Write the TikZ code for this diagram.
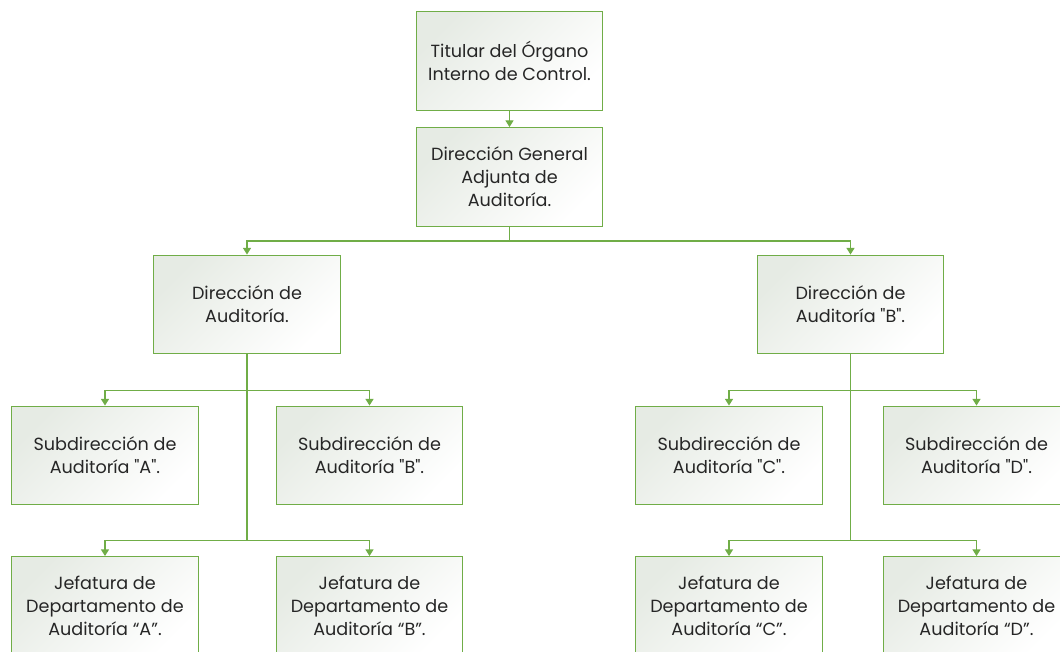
\documentclass[tikz,border=0pt]{standalone}
\usepackage{fontspec}
\setmainfont{Poppins}
\usetikzlibrary{arrows.meta}
\definecolor{verde}{RGB}{112,173,71}
\definecolor{sombra}{RGB}{230,235,228}
\begin{document}
\begin{tikzpicture}[x=0.75pt,y=-0.75pt]
	\tikzset{caja/.style={draw=verde,line width=0.9pt,rectangle,minimum width=140pt,minimum height=74pt,align=center,
			top color=sombra,bottom color=white,shading angle=45,text=black!85,font=\fontsize{13.2}{17.2}\selectfont},
		lnk/.style={draw=verde,line width=0.9pt,-{Triangle[length=5pt,width=6pt]}}}
	\clip(0,0)rectangle(1060,652);
	\path(509.5,61)node[caja](T){Titular del Órgano\\Interno de Control.}
	(509.5,177)node[caja](DG){Dirección General\\Adjunta de\\Auditoría.};
	\path(247,304.5)node[caja](DA){Dirección de\\Auditoría.}
	(850.5,304.5)node[caja](DB){Dirección de\\Auditoría \textquotedbl B\textquotedbl.};
	\path(105,455.5)node[caja](SA){Subdirección de\\Auditoría \textquotedbl A\textquotedbl.}
	(369.5,455.5)node[caja](SB){Subdirección de\\Auditoría \textquotedbl B\textquotedbl.}
	(729,455.5)node[caja](SC){Subdirección de\\Auditoría \textquotedbl C\textquotedbl.}
	(976.5,455.5)node[caja](SD){Subdirección de\\Auditoría \textquotedbl D\textquotedbl.};
	\path(105,606)node[caja](JA){Jefatura de\\Departamento de\\Auditoría “A”.}
	(369.5,606)node[caja](JB){Jefatura de\\Departamento de\\Auditoría “B”.}
	(729,606)node[caja](JC){Jefatura de\\Departamento de\\Auditoría “C”.}
	(976.5,606)node[caja](JD){Jefatura de\\Departamento de\\Auditoría “D”.};
	\foreach \x/\y/\d in {
		T/DG/8,
		DG/DA/14,DG/DB/14,
		DA/SA/36,DA/SB/36,DA/JA/186,DA/JB/186,
		DB/SC/36,DB/SD/36,DB/JC/186,DB/JD/186}
	\draw[lnk](\x.south)--++(0,\d)-|(\y.north);
\end{tikzpicture}
\end{document}
